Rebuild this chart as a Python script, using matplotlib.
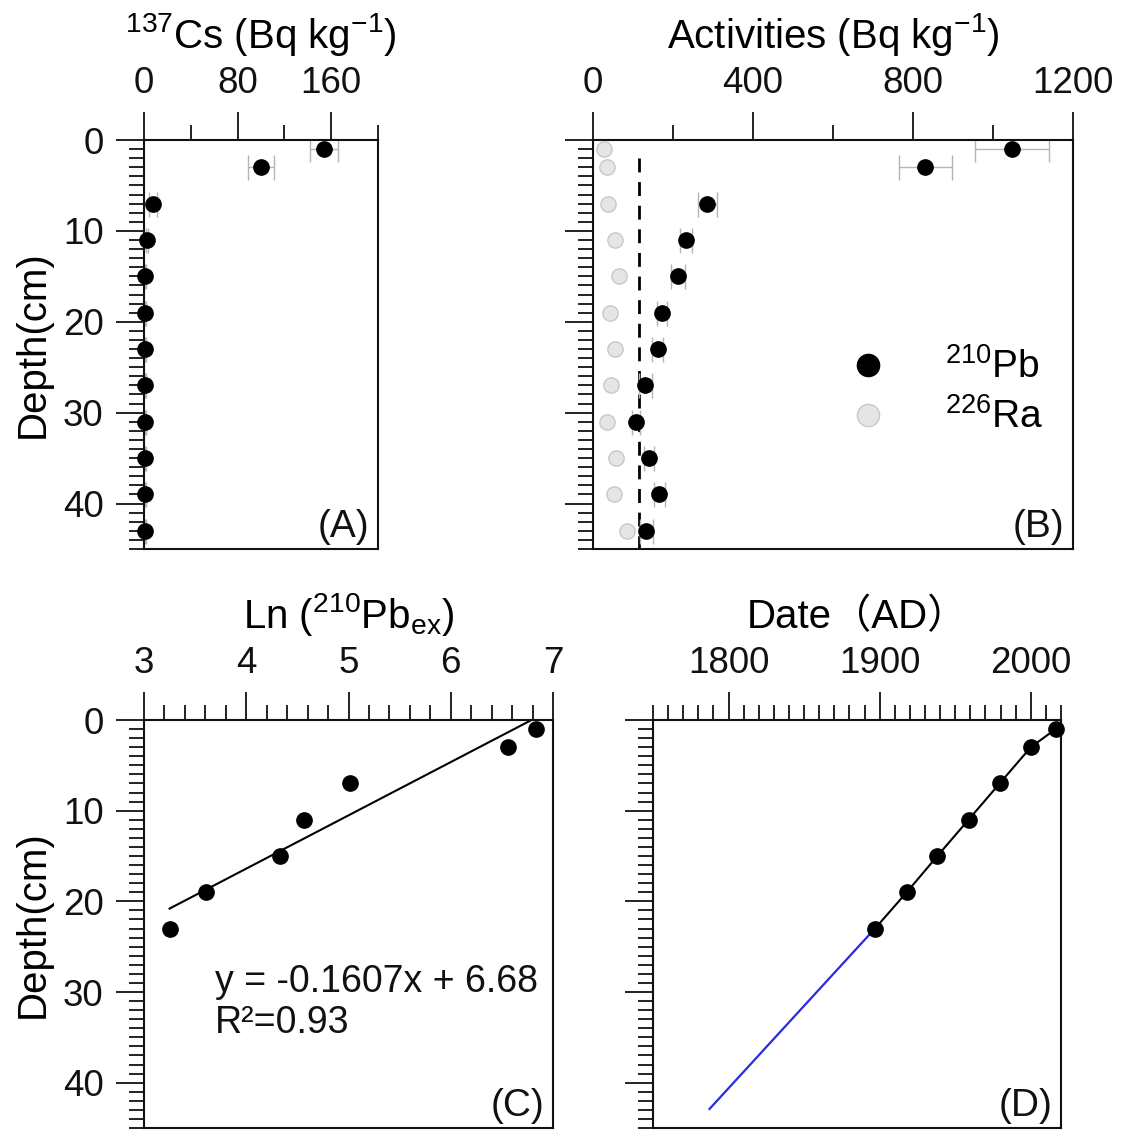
import matplotlib
matplotlib.use('Agg')
import matplotlib.pyplot as plt
from matplotlib.ticker import MultipleLocator, FixedLocator
from matplotlib.lines import Line2D

plt.rcParams['font.family'] = ['Liberation Sans', 'Noto Sans CJK SC', 'DejaVu Sans']
plt.rcParams['mathtext.fontset'] = 'custom'
plt.rcParams['mathtext.rm'] = 'Liberation Sans'
plt.rcParams['mathtext.it'] = 'Liberation Sans:italic'
plt.rcParams['mathtext.bf'] = 'Liberation Sans:bold'

# ---------------- data ----------------
depth = [1, 3, 7, 11, 15, 19, 23, 27, 31, 35, 39, 43]
cs137 = [154, 100, 8, 2.3, 1, 1, 1, 1, 1, 1, 1, 1]
cs137_err = [12, 11, 3.5, 1, 0.5, 0.5, 0.5, 0.5, 0.5, 0.5, 0.5, 0.5]

pb210 = [1047, 831, 286, 232, 213, 173, 162, 131, 108, 140, 166, 133]
pb210_err = [92, 66, 23, 15, 17, 13, 14, 17, 10, 13, 13, 16]
ra226 = [27, 34, 37, 54, 66, 43, 55, 45, 34, 57, 52, 86]
supported_pb = [115, 115]
supported_depth = [2, 45]

ln_depth = [1, 3, 7, 11, 15, 19, 23]
ln_pbex = [6.83, 6.56, 5.01, 4.56, 4.33, 3.61, 3.25]
fit_ln = [6.79, 3.25]
fit_depth = [0, 20.8]

date_depth = [1, 3, 7, 11, 15, 19, 23]
date_ad = [2016.5, 2000, 1979.4, 1958.8, 1938.2, 1917.9, 1896.9]
extrap_ad = [1896.9, 1787.4]
extrap_depth = [23, 42.9]

TICK_FS = 26.5
LABEL_FS = 29
LEG_FS = 28
EQ_FS = 27
PANEL_FS = 28
TITLE_PAD = 13
W, H = 1123, 1130
INK = '#111111'


def rect(l, r, t, b):
    return [l / W, 1 - b / H, (r - l) / W, (b - t) / H]


fig = plt.figure(figsize=(W / 100, H / 100), dpi=100)
axA = fig.add_axes(rect(144, 378, 140, 549))
axB = fig.add_axes(rect(593, 1073, 140, 549))
axC = fig.add_axes(rect(144, 553, 720, 1128))
axD = fig.add_axes(rect(653, 1061, 720, 1128))


def style(ax, ylabels=True):
    ax.set_ylim(45, 0)
    ax.yaxis.set_major_locator(MultipleLocator(10))
    ax.yaxis.set_minor_locator(MultipleLocator(1))
    ax.xaxis.tick_top()
    ax.xaxis.set_label_position('top')
    ax.tick_params(which='major', length=20, width=1.3, direction='out',
                   labelsize=TICK_FS, colors=INK)
    ax.tick_params(which='minor', length=11, width=1.3, direction='out',
                   colors=INK)
    ax.tick_params(axis='x', which='both', top=True, bottom=False,
                   labeltop=True, labelbottom=False)
    ax.tick_params(axis='x', which='major', pad=8)
    ax.tick_params(axis='y', which='both', left=True, right=False)
    ax.tick_params(axis='y', which='major', pad=9)
    if not ylabels:
        ax.tick_params(axis='y', labelleft=False)
    for s in ax.spines.values():
        s.set_linewidth(1.5)
        s.set_color(INK)


def panel_label(ax, txt):
    ax.annotate(txt, xy=(1, 0), xycoords='axes fraction', xytext=(-6, 3),
                textcoords='offset points', ha='right', va='bottom',
                fontsize=PANEL_FS, color=INK)


# ---------- (A) ----------
style(axA)
axA.set_xlim(0, 200)
axA.xaxis.set_major_locator(FixedLocator([0, 80, 160]))
axA.xaxis.set_minor_locator(FixedLocator([40, 120, 200]))
axA.errorbar(cs137, depth, xerr=cs137_err, fmt='none', ecolor='#b5b5b5',
             elinewidth=1, capsize=9, capthick=1)
axA.plot(cs137, depth, 'o', color='black', ms=11, clip_on=False, zorder=3)
axA.set_xlabel('$^{137}$Cs (Bq kg$^{-1}$)', fontsize=LABEL_FS, labelpad=TITLE_PAD)
axA.set_ylabel('Depth(cm)', fontsize=LABEL_FS, labelpad=8)
panel_label(axA, '(A)')

# ---------- (B) ----------
style(axB, ylabels=False)
axB.set_xlim(0, 1200)
axB.xaxis.set_major_locator(FixedLocator([0, 400, 800, 1200]))
axB.xaxis.set_minor_locator(FixedLocator([200, 600, 1000]))
axB.plot(supported_pb, supported_depth, color='black', lw=2,
         linestyle=(0, (5, 3.5)), zorder=1)
axB.errorbar(pb210, depth, xerr=pb210_err, fmt='none', ecolor='#b5b5b5',
             elinewidth=1, capsize=9, capthick=1)
axB.plot(ra226, depth, 'o', mfc='#e5e5e5', mec='#c8c8c8', mew=1, ms=11,
         clip_on=False, zorder=3)
axB.plot(pb210, depth, 'o', color='black', ms=11, clip_on=False, zorder=4)
axB.set_xlabel('Activities (Bq kg$^{-1}$)', fontsize=LABEL_FS, labelpad=TITLE_PAD)
handles = [Line2D([], [], linestyle='none', marker='o', color='black', ms=16),
           Line2D([], [], linestyle='none', marker='o', mfc='#e5e5e5',
                  mec='#c8c8c8', ms=16)]
axB.legend(handles, ['$^{210}$Pb', '$^{226}$Ra'], loc='center left',
           bbox_to_anchor=(0.5325, 0.383), frameon=False, fontsize=LEG_FS,
           handlelength=1.0, handletextpad=1.48, labelspacing=0.31,
           borderpad=0, borderaxespad=0)
panel_label(axB, '(B)')

# ---------- (C) ----------
style(axC)
axC.set_xlim(3, 7)
axC.xaxis.set_major_locator(MultipleLocator(1))
axC.xaxis.set_minor_locator(MultipleLocator(0.2))
axC.plot(fit_ln, fit_depth, color='black', lw=1.5)
axC.plot(ln_pbex, ln_depth, 'o', color='black', ms=11, clip_on=False, zorder=3)
axC.set_xlabel('Ln ($^{210}$Pb$_{\\mathrm{ex}}$)', fontsize=LABEL_FS,
               labelpad=TITLE_PAD)
axC.set_ylabel('Depth(cm)', fontsize=LABEL_FS, labelpad=8)
axC.text(0.1736, 0.333, 'y = -0.1607x + 6.68', transform=axC.transAxes,
         fontsize=EQ_FS, ha='left', va='baseline', color=INK)
axC.text(0.1736, 0.233, 'R²=0.93', transform=axC.transAxes,
         fontsize=EQ_FS, ha='left', va='baseline', color=INK)
panel_label(axC, '(C)')

# ---------- (D) ----------
style(axD, ylabels=False)
axD.set_xlim(1750, 2020)
axD.xaxis.set_major_locator(FixedLocator([1800, 1900, 2000]))
axD.xaxis.set_minor_locator(MultipleLocator(10))
axD.plot(extrap_ad, extrap_depth, color='#2a2ae0', lw=1.6)
axD.plot(date_ad, date_depth, '-o', color='black', lw=1.5, ms=11,
         clip_on=False, zorder=3)
axD.set_xlabel('Date（AD）', fontsize=LABEL_FS, labelpad=TITLE_PAD)
panel_label(axD, '(D)')

fig.savefig('out.png', dpi=100)
